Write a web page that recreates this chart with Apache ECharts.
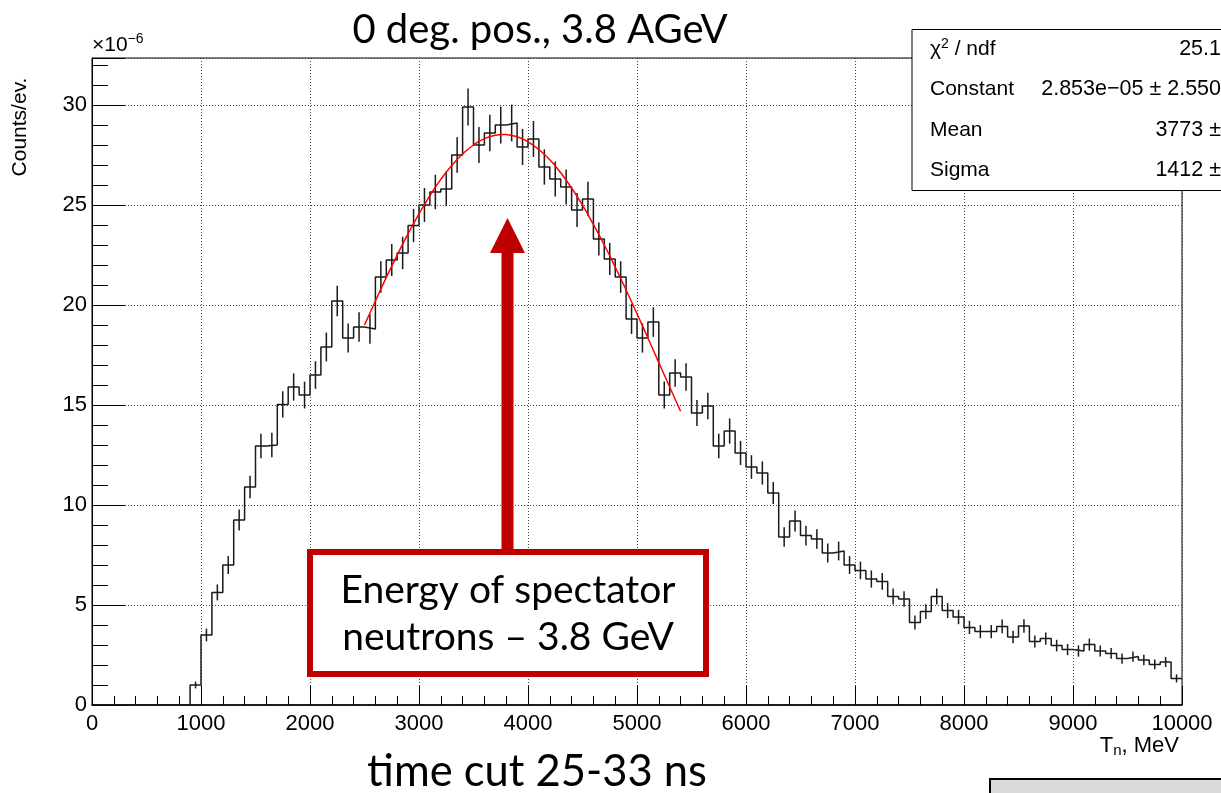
<!DOCTYPE html>
<html>
<head>
<meta charset="utf-8">
<script src="https://cdn.jsdelivr.net/npm/echarts@6/dist/echarts.min.js"></script>
<style>
  html, body { margin: 0; padding: 0; background: #fff; }
  #chart { width: 1221px; height: 793px; }
</style>
</head>
<body>
<div id="chart"></div>
<script>
// histogram: 100 bins of 100 MeV, counts in units of 1e-6 per event
const BIN_WIDTH = 100;
const counts = [
  0, 0, 0, 0, 0, 0, 0, 0, 0, 1.0,
  3.5, 5.63, 7.0, 9.25, 10.9, 12.95, 13.0, 15.03, 15.9, 15.5,
  16.5, 17.9, 20.2, 18.35, 18.9, 18.8, 21.4, 22.25, 22.6, 23.97,
  25.0, 25.65, 25.8, 27.5, 29.9, 28.0, 28.6, 29.0, 29.1, 27.9,
  28.3, 26.9, 26.3, 25.9, 24.75, 25.3, 23.3, 22.3, 21.4, 19.3,
  18.35, 19.15, 15.5, 16.6, 16.4, 14.6, 14.95, 12.95, 13.7, 12.6,
  11.9, 11.6, 10.6, 8.4, 9.2, 8.47, 8.3, 7.6, 7.7, 7.0,
  6.73, 6.3, 6.18, 5.43, 5.3, 4.13, 4.67, 5.42, 4.72, 4.4,
  3.88, 3.67, 3.67, 3.93, 3.4, 3.95, 3.18, 3.32, 2.97, 2.77,
  2.7, 3.02, 2.7, 2.58, 2.32, 2.42, 2.25, 2.03, 2.15, 1.33
];
const errors = [
  0, 0, 0, 0, 0, 0, 0, 0, 0, 0.17,
  0.32, 0.40, 0.45, 0.52, 0.56, 0.61, 0.61, 0.66, 0.68, 0.67,
  0.69, 0.72, 0.76, 0.73, 0.74, 0.74, 0.79, 0.80, 0.81, 0.83,
  0.85, 0.86, 0.86, 0.89, 0.93, 0.90, 0.91, 0.92, 0.92, 0.90,
  0.90, 0.88, 0.87, 0.87, 0.85, 0.86, 0.82, 0.80, 0.79, 0.75,
  0.73, 0.74, 0.67, 0.69, 0.69, 0.65, 0.66, 0.61, 0.63, 0.60,
  0.59, 0.58, 0.55, 0.49, 0.52, 0.49, 0.49, 0.47, 0.47, 0.45,
  0.44, 0.43, 0.42, 0.40, 0.39, 0.35, 0.37, 0.40, 0.37, 0.36,
  0.33, 0.33, 0.33, 0.34, 0.31, 0.34, 0.30, 0.31, 0.29, 0.28,
  0.28, 0.30, 0.28, 0.27, 0.26, 0.26, 0.26, 0.24, 0.25, 0.20
];
// gaussian fit, as drawn (red curve)
const fitX = [2500, 2600, 2700, 2800, 2900, 3000, 3100, 3200, 3300, 3400,
  3500, 3600, 3700, 3773, 3800, 3900, 4000, 4100, 4200, 4300,
  4400, 4500, 4600, 4700, 4800, 4900, 5000, 5100, 5200, 5300, 5400];
const fitY = [19.00, 20.20, 21.38, 22.50, 23.57, 24.56, 25.47, 26.28, 26.97, 27.55,
  28.00, 28.32, 28.49, 28.53, 28.52, 28.41, 28.16, 27.77, 27.26, 26.61,
  25.85, 24.99, 24.03, 23.00, 21.90, 20.75, 19.56, 18.35, 17.12, 15.90, 14.69];
const xTicks = [0, 1000, 2000, 3000, 4000, 5000, 6000, 7000, 8000, 9000, 10000];
const yTicks = [0, 5, 10, 15, 20, 25, 30];
const statsLabels = ['χ{sup|2} / ndf', 'Constant', 'Mean', 'Sigma'];
const statsValues = ['25.1', '2.853e\u221205 \u00b1 2.550', '3773 \u00b1', '1412 \u00b1'];

const Y_MAX = 32.35;
const X_MAX = xTicks[xTicks.length - 1];

const stepData = counts.map((v, i) => [i * BIN_WIDTH, v]);
stepData.push([X_MAX, counts[counts.length - 1]]);
const errData = counts.map((v, i) => [i * BIN_WIDTH + BIN_WIDTH / 2, v, errors[i]])
  .filter(d => d[1] > 0);

const HELV = '"Liberation Sans", Arial, sans-serif';
const CAL = 'Lato, "Open Sans", sans-serif';
const RED = '#c00000';

const chart = echarts.init(document.getElementById('chart'));

const statsGraphics = [];
statsLabels.forEach((t, i) => {
  const cy = 49 + i * 40.5;
  statsGraphics.push({type: 'text', x: 930, y: cy, z: 101,
    style: {text: t, font: '21px ' + HELV, fill: '#000', textAlign: 'left', textVerticalAlign: 'middle',
      rich: {sup: {fontSize: 14, fontFamily: HELV, padding: [0, 0, 10, 0]}}}});
  statsGraphics.push({type: 'text', x: 1221, y: cy, z: 101,
    style: {text: statsValues[i], font: '21.5px ' + HELV, fill: '#000', textAlign: 'right', textVerticalAlign: 'middle'}});
});

chart.setOption({
  animation: false,
  grid: {left: 92, right: 39, top: 58, bottom: 88, show: true, borderColor: '#000', borderWidth: 1},
  xAxis: {
    type: 'value', min: xTicks[0], max: X_MAX, interval: 1000,
    axisLine: {lineStyle: {color: '#000', width: 1.5}},
    axisTick: {inside: true, length: 19, lineStyle: {color: '#000'}},
    minorTick: {show: true, splitNumber: 5, length: 9, lineStyle: {color: '#000'}},
    splitLine: {show: true, lineStyle: {color: '#444', type: [1, 2]}},
    axisLabel: {color: '#000', fontFamily: HELV, fontSize: 22, margin: 8,
      formatter: v => xTicks.includes(v) ? String(v) : ''}
  },
  yAxis: [{
    type: 'value', min: 0, max: Y_MAX, interval: 5,
    axisLine: {show: true, lineStyle: {color: '#000', width: 1}},
    axisTick: {inside: true, length: 33, lineStyle: {color: '#000'}},
    splitLine: {show: true, lineStyle: {color: '#444', type: [1, 2]}},
    axisLabel: {color: '#000', fontFamily: HELV, fontSize: 22, margin: 5,
      formatter: v => yTicks.includes(v) ? String(v) : ''}
  }, {
    type: 'value', min: 0, max: Y_MAX, interval: 1, position: 'left',
    axisLine: {show: false},
    axisTick: {show: true, inside: true, length: 16, lineStyle: {color: '#000'}},
    splitLine: {show: false},
    axisLabel: {show: false}
  }],
  series: [{
    type: 'line', step: 'end', data: stepData, symbol: 'none',
    lineStyle: {color: '#1a1a1a', width: 1.5}, z: 3
  }, {
    type: 'custom', data: errData, z: 3,
    renderItem(params, api) {
      const x = api.value(0), v = api.value(1), e = api.value(2);
      const a = api.coord([x, v + e]), b = api.coord([x, v - e]);
      return {type: 'line', shape: {x1: a[0], y1: a[1], x2: b[0], y2: b[1]},
        style: {stroke: '#1a1a1a', lineWidth: 1.5}};
    }
  }, {
    type: 'line', data: fitX.map((x, i) => [x, fitY[i]]), smooth: true, symbol: 'none',
    lineStyle: {color: '#ff0000', width: 1.5}, z: 4
  }],
  graphic: [
    {type: 'text', x: 540, y: 30, style: {text: '0 deg. pos., 3.8 AGeV', font: '40px ' + CAL, fill: '#000', textAlign: 'center', textVerticalAlign: 'middle'}},
    {type: 'text', x: 537, y: 772, style: {text: 'time cut 25-33 ns', font: '43.5px ' + CAL, fill: '#000', textAlign: 'center', textVerticalAlign: 'middle'}},
    {type: 'text', x: 20, y: 127, rotation: Math.PI / 2, style: {text: 'Counts/ev.', font: '21px ' + HELV, fill: '#000', textAlign: 'center', textVerticalAlign: 'middle'}},
    {type: 'text', x: 92, y: 58, style: {text: '×10{sup|\u22126}', font: '21px ' + HELV, fill: '#000', textAlign: 'left', textVerticalAlign: 'bottom',
      rich: {sup: {fontSize: 14, fontFamily: HELV, padding: [0, 0, 12, 0]}}}},
    {type: 'text', x: 1179, y: 758, style: {text: 'T{sub|n}, MeV', font: '22px ' + HELV, fill: '#000', textAlign: 'right', textVerticalAlign: 'bottom',
      rich: {sub: {fontSize: 15, fontFamily: HELV, padding: [10, 0, 0, 0]}}}},
    // red arrow + annotation box
    {type: 'polygon', z: 100, shape: {points: [[507.5, 218], [525, 253], [513.5, 253], [513.5, 552], [501.5, 552], [501.5, 253], [490, 253]]},
      style: {fill: RED}},
    {type: 'rect', z: 100, shape: {x: 310, y: 552, width: 396, height: 122}, style: {fill: '#fff', stroke: RED, lineWidth: 6}},
    {type: 'text', z: 101, x: 508, y: 590, style: {text: 'Energy of spectator', font: '39px ' + CAL, fill: '#000', textAlign: 'center', textVerticalAlign: 'middle'}},
    {type: 'text', z: 101, x: 508, y: 637, style: {text: 'neutrons \u2013 3.8 GeV', font: '39px ' + CAL, fill: '#000', textAlign: 'center', textVerticalAlign: 'middle'}},
    // stats box
    {type: 'rect', z: 100, shape: {x: 912, y: 29.5, width: 330, height: 161}, style: {fill: '#fff', stroke: '#000', lineWidth: 1}},
    ...statsGraphics,
    // grey box bottom right
    {type: 'rect', z: 100, shape: {x: 990, y: 779, width: 240, height: 20}, style: {fill: '#d9d9d9', stroke: '#000', lineWidth: 2}}
  ]
});
</script>
</body>
</html>
